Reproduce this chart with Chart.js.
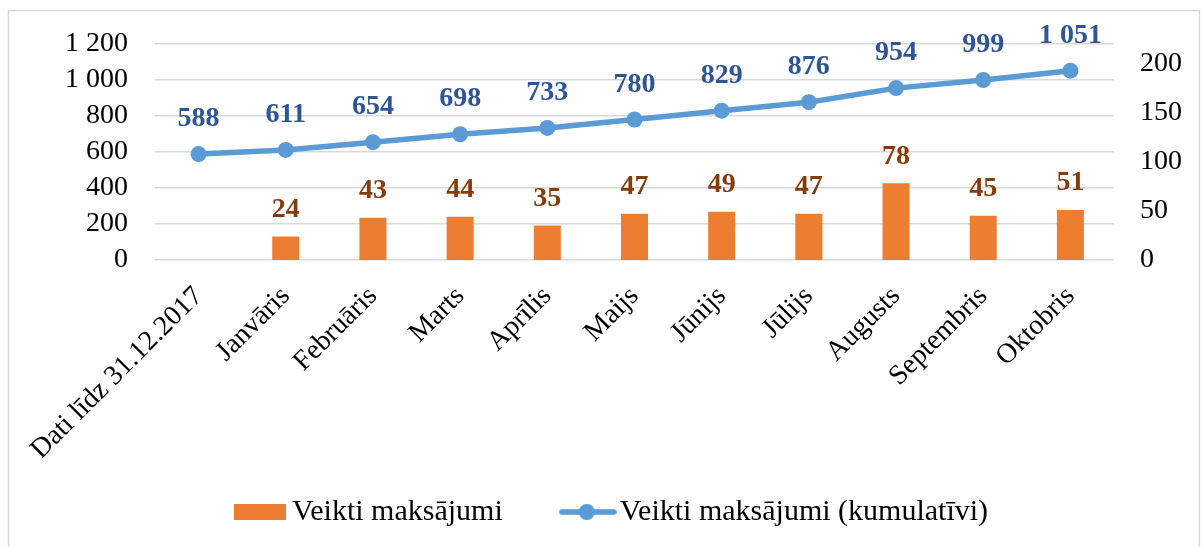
<!DOCTYPE html>
<html>
<head>
<meta charset="utf-8">
<script src="https://cdn.jsdelivr.net/npm/chart.js@4"></script>
<style>
  html, body { margin: 0; padding: 0; background: #fff; }
</style>
</head>
<body>
<canvas id="chart" width="1202" height="547"></canvas>
<script>
const categories = ['Dati līdz 31.12.2017', 'Janvāris', 'Februāris', 'Marts', 'Aprīlis', 'Maijs',
  'Jūnijs', 'Jūlijs', 'Augusts', 'Septembris', 'Oktobris'];
const payments = [null, 24, 43, 44, 35, 47, 49, 47, 78, 45, 51];
const cumulative = [588, 611, 654, 698, 733, 780, 829, 876, 954, 999, 1051];
const leftTicks = [0, 200, 400, 600, 800, 1000, 1200];
const rightTicks = [0, 50, 100, 150, 200];
const seriesNames = ['Veikti maksājumi', 'Veikti maksājumi (kumulatīvi)'];

const ORANGE = '#ED7D31';
const BLUE = '#5B9BD5';
const FONT = '"Liberation Serif", "Times New Roman", serif';

// thousands with a space, like "1 051"
const fmt = v => String(v).replace(/\B(?=(\d{3})+(?!\d))/g, ' ');

// legend markers as small canvases (centered on the legend box)
function barMarker() {
  const c = document.createElement('canvas');
  c.width = 81; c.height = 16;
  const g = c.getContext('2d');
  g.fillStyle = ORANGE;
  g.fillRect(29, 0, 52, 16);
  return c;
}
function lineMarker() {
  const c = document.createElement('canvas');
  c.width = 87; c.height = 18;
  const g = c.getContext('2d');
  g.strokeStyle = BLUE;
  g.lineWidth = 5.5;
  g.lineCap = 'round';
  g.beginPath(); g.moveTo(32, 9); g.lineTo(84, 9); g.stroke();
  g.fillStyle = BLUE;
  g.beginPath(); g.arc(57, 9, 8, 0, Math.PI * 2); g.fill();
  return c;
}
const markers = [barMarker(), lineMarker()];

const frame = {
  id: 'frame',
  beforeDraw(chart) {
    const ctx = chart.ctx;
    ctx.save();
    ctx.fillStyle = '#fff';
    ctx.fillRect(0, 0, chart.width, chart.height);
    ctx.strokeStyle = '#D9D9D9';
    ctx.lineWidth = 1.5;
    ctx.strokeRect(8.5, 10.5, 1191, 560);
    ctx.restore();
  }
};

const valueLabels = {
  id: 'valueLabels',
  afterDatasetsDraw(chart, args, opts) {
    const ctx = chart.ctx;
    ctx.save();
    ctx.font = 'bold 28px ' + FONT;
    ctx.textAlign = 'center';
    ctx.textBaseline = 'middle';
    chart.data.datasets.forEach((ds, i) => {
      chart.getDatasetMeta(i).data.forEach((el, j) => {
        const v = ds.data[j];
        if (v == null) return;
        ctx.fillStyle = opts.colors[i];
        ctx.fillText(fmt(v), el.x, el.y - opts.offsets[i]);
      });
    });
    ctx.restore();
  }
};

const tickFont = { family: FONT, size: 28 };

new Chart(document.getElementById('chart'), {
  data: {
    labels: categories,
    datasets: [
      {
        type: 'bar',
        label: seriesNames[0],
        data: payments,
        backgroundColor: ORANGE,
        yAxisID: 'y2',
        barPercentage: 0.31,
        categoryPercentage: 1
      },
      {
        type: 'line',
        label: seriesNames[1],
        data: cumulative,
        borderColor: BLUE,
        backgroundColor: BLUE,
        borderWidth: 5.5,
        pointRadius: 8,
        pointBorderWidth: 0,
        pointBackgroundColor: BLUE,
        tension: 0,
        yAxisID: 'y'
      }
    ]
  },
  options: {
    responsive: false,
    animation: false,
    layout: { padding: { top: 40, left: 0, right: 0, bottom: 10 } },
    scales: {
      x: {
        grid: { display: false },
        border: { display: false },
        ticks: {
          font: tickFont, color: '#000',
          autoSkip: false, minRotation: 45, maxRotation: 45, padding: 12
        },
        afterFit(scale) { scale.height = 198; }
      },
      y: {
        position: 'left',
        min: 0, max: 1200,
        afterBuildTicks(scale) { scale.ticks = leftTicks.map(v => ({ value: v })); },
        grid: { color: '#D9D9D9', lineWidth: 1.5, drawTicks: false },
        border: { display: false },
        ticks: { font: tickFont, color: '#000', padding: 27, autoSkip: false, callback: v => fmt(v) },
        afterFit(scale) { scale.width = 155; }
      },
      y2: {
        position: 'right',
        min: 0, max: 220,
        afterBuildTicks(scale) { scale.ticks = rightTicks.map(v => ({ value: v })); },
        grid: { display: false, drawTicks: false },
        border: { display: false },
        ticks: { font: tickFont, color: '#000', padding: 26, autoSkip: false },
        afterFit(scale) { scale.width = 88; }
      }
    },
    plugins: {
      tooltip: { enabled: false },
      legend: {
        position: 'bottom',
        labels: {
          font: { family: FONT, size: 30 },
          color: '#000',
          usePointStyle: true,
          pointStyleWidth: 63,
          padding: 39,
          generateLabels(chart) {
            return chart.data.datasets.map((ds, i) => ({
              text: ds.label,
              pointStyle: markers[i],
              fillStyle: 'transparent',
              strokeStyle: 'transparent',
              lineWidth: 0,
              datasetIndex: i,
              hidden: false
            }));
          }
        }
      },
      valueLabels: {
        colors: ['#843C0C', '#2F5597'],
        offsets: [27, 35]
      }
    }
  },
  plugins: [frame, valueLabels]
});
</script>
</body>
</html>
